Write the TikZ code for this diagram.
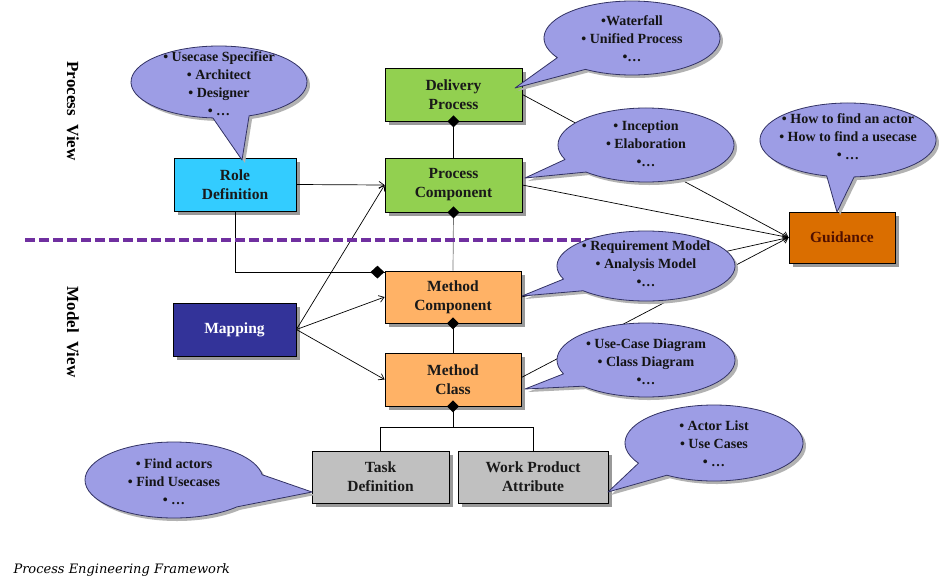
\documentclass[tikz,border=0pt]{standalone}
\usepackage{fontspec}
\setmainfont{Liberation Serif}
\newfontfamily\capfont{DejaVu Serif}
\usetikzlibrary{arrows.meta,calc,shapes.geometric}
\pgfdeclarelayer{bg}
\pgfsetlayers{bg,main}
\definecolor{cyanbox}{RGB}{51,204,255}
\definecolor{greenbox}{RGB}{146,208,80}
\definecolor{orangebox}{RGB}{218,110,0}
\definecolor{methodbox}{RGB}{255,178,102}
\definecolor{mapbox}{RGB}{51,51,153}
\definecolor{graybox}{RGB}{192,192,192}
\definecolor{calloutfill}{RGB}{157,157,229}
\definecolor{calloutline}{RGB}{50,50,100}
\definecolor{dashpurple}{RGB}{112,48,160}
\definecolor{guidtext}{RGB}{80,16,0}
\tikzset{
  boxnode/.style={draw=black, line width=0.8pt, rectangle, inner sep=0pt, align=center,
    font=\bfseries\fontsize{15.5}{19}\selectfont, text=black!90},
  arr/.style={line width=0.7pt, -{Straight Barb[length=5pt,width=7pt]}},
  conn/.style={line width=0.7pt},
  dia/.style={diamond, fill=black, inner sep=0pt, minimum width=12pt, minimum height=12pt},
  ctext/.style={align=center, font=\bfseries\fontsize{14}{18}\selectfont, text=black!92},
  sidelabel/.style={rotate=-90, font=\bfseries\fontsize{17}{17}\selectfont},
}
% callout: #1 cx, #2 cy, #3 rx, #4 ry, #5 b1, #6 b2, #7 tip
\newcommand{\callout}[7]{%
  \fill[black!30] ($(#1,#2)+(3,3)+(#6:#3 and #4)$) arc[start angle=#6, end angle=#5+360, x radius=#3, y radius=#4] -- ($(#7)+(3,3)$) -- cycle;
  \filldraw[fill=calloutfill, draw=calloutline, line width=0.8pt, line join=round] ($(#1,#2)+(#6:#3 and #4)$) arc[start angle=#6, end angle=#5+360, x radius=#3, y radius=#4] -- (#7) -- cycle;
}
\newcommand{\shadowbox}[1]{\fill[black!40] ($(#1.north west)+(4,4)$) rectangle ($(#1.south east)+(4,4)$);}
\begin{document}
\begin{tikzpicture}[x=1pt,y=-1pt]
\useasboundingbox (0,0) rectangle (939,584);

% boxes
\node[boxnode, minimum width=122pt, minimum height=53pt, fill=cyanbox] (role) at (235,184.5) {Role\\Definition};
\node[boxnode, minimum width=137pt, minimum height=53pt, fill=greenbox] (dp) at (453.5,94.5) {Delivery\\Process};
\node[boxnode, minimum width=137pt, minimum height=54pt, fill=greenbox] (pc) at (453.5,185) {Process\\Component};
\node[boxnode, minimum width=106pt, minimum height=51pt, fill=orangebox, text=guidtext] (guid) at (842,237.5) {Guidance};
\node[boxnode, minimum width=136pt, minimum height=52pt, fill=methodbox] (mc) at (453,297) {Method\\Component};
\node[boxnode, minimum width=123pt, minimum height=53pt, fill=mapbox, text=white] (map) at (234.5,329.5) {Mapping};
\node[boxnode, minimum width=136pt, minimum height=53pt, fill=methodbox] (mcl) at (453,379.5) {Method\\Class};
\node[boxnode, minimum width=137pt, minimum height=52pt, fill=graybox] (task) at (380.5,477) {Task\\Definition};
\node[boxnode, minimum width=150pt, minimum height=52pt, fill=graybox] (wpa) at (533,477) {Work Product\\Attribute};

\begin{pgfonlayer}{bg}
  \fill[white] (0,0) rectangle (939,584);
  % shadows
  \foreach \b in {role,dp,pc,guid,mc,map,mcl,task,wpa} {\shadowbox{\b}}
  % connectors
  \draw[arr] (role.east) -- (pc.west);
  \draw[arr] (map.east) -- (pc.west);
  \draw[arr] (map.east) -- (mc.west);
  \draw[arr] (map.east) -- (mcl.west);
  \coordinate (rolecorner) at ($(mc.north west)+(0,1.5)$);
  \draw[conn] (role.south) |- (rolecorner);
  \draw[conn] (dp.south) -- (pc.north);
  \draw[conn, black!55] (pc.south) -- (mc.north);
  \draw[conn] (mc.south) -- (mcl.north);
  \coordinate (fork) at ($(mcl.south)+(0,21)$);
  \draw[conn] (mcl.south) -- (fork);
  \draw[conn] (task.north) |- (fork) -| (wpa.north);
  \draw[arr] (dp.east) -- (guid.west);
  \draw[arr] (pc.east) -- (guid.west);
  \draw[arr] (mc.east) -- (guid.west);
  \draw[arr] ($(mcl.east)+(0,-2)$) -- (guid.west);
  % dashed separator
  \coordinate (dashA) at (25,240);
  \coordinate (dashB) at (600,240);
  \draw[dashpurple, line width=4pt, dash pattern=on 10pt off 4pt] (dashA) -- (dashB);
\end{pgfonlayer}

% diamonds
\node[dia] (d1) at (dp.south) {};
\node[dia] (d2) at (pc.south) {};
\node[dia] (d3) at (mc.south) {};
\node[dia] (d4) at (mcl.south) {};
\node[dia, minimum width=14pt, minimum height=13pt, anchor=east] (d5) at (rolecorner) {};

% callouts
\callout{219}{82}{88}{36}{70}{94}{242,160}
\node[ctext] (c1) at (219,84) {• Usecase Specifier\\• Architect\\• Designer\\• …};

\callout{632}{38}{88}{37}{122}{148}{515,88}
\node[ctext] (c2) at (632,39) {•Waterfall\\• Unified Process\\•…};

\callout{646}{145}{88}{37}{133}{157}{525,178}
\node[ctext] (c3) at (646,144) {• Inception\\• Elaboration\\•…};

\callout{848}{140}{88}{37}{86}{104}{837,212}
\node[ctext] (c4) at (848,137) {• How to find an actor\\• How to find a usecase\\• …};

\callout{646}{266}{89}{35}{135}{158}{522,296}
\node[ctext] (c5) at (646,264) {• Requirement Model\\• Analysis Model\\•…};

\callout{646}{360}{89}{37}{135}{158}{525,389}
\node[ctext] (c6) at (646,362) {• Use-Case Diagram\\• Class Diagram\\•…};

\callout{174}{480}{89}{38}{-8}{45}{312,492}
\node[ctext] (c7) at (174,482) {• Find actors\\• Find Usecases\\• …};

\callout{714}{443}{89}{38}{122}{148}{608,492}
\node[ctext] (c8) at (714,444) {• Actor List\\• Use Cases\\• …};

% side labels
\node[sidelabel] (pv) at (73,111) {Process~~View};
\node[sidelabel] (mv) at (73,332) {Model~~View};

% caption
\node[anchor=west, font=\capfont\itshape\fontsize{13}{13}\selectfont] (cap) at (10,570) {Process Engineering Framework};
\end{tikzpicture}
\end{document}
